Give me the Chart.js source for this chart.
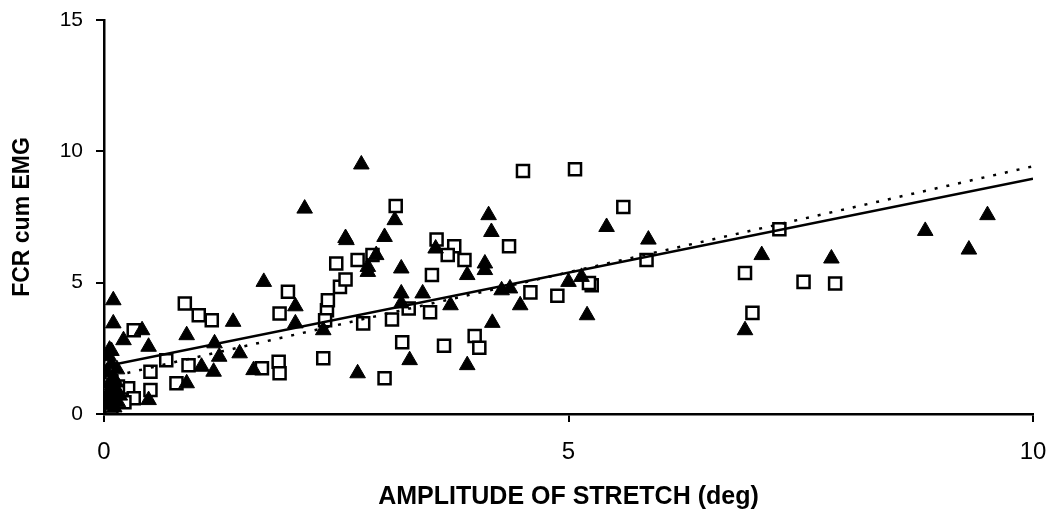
<!DOCTYPE html>
<html>
<head>
<meta charset="utf-8">
<script src="https://cdn.jsdelivr.net/npm/chart.js@4"></script>
<style>
  body { margin: 0; background: #fff; }
  #wrap { width: 1052px; height: 512px; }
</style>
</head>
<body>
<div id="wrap"><canvas id="grafico"></canvas></div>
<script>
// triangulos (relleno negro)
const triX = [2.16, 2.6, 1.72, 0.10, 0.10, 0.41, 0.21, 0.48, 0.06, 0.89, 1.39, 1.19, 1.24, 1.46, 1.05, 1.18, 1.61, 0.89, 0.48,
  2.06, 2.06, 2.36, 2.77, 3.13, 2.61, 3.02, 2.93, 2.84, 2.84, 3.2, 4.14, 4.17, 3.57, 4.1, 4.1, 3.91, 3.2, 3.2, 3.43, 3.73,
  4.28, 4.37, 4.48, 5.0, 5.14, 5.2, 4.18, 3.29, 2.73, 3.91, 5.41, 5.86, 7.08, 6.9, 7.83, 8.84, 9.31, 9.51,
  0.05, 0.08, 0.03, 0.10, 0.06, 0.12, 0.04, 0.09, 0.15, 0.05, 0.11, 0.02, 0.14, 0.17, 0.08, 0.13];
const triY = [7.82, 6.7, 5.03, 4.33, 3.45, 3.19, 2.81, 2.56, 2.45, 3.0, 3.51, 2.69, 2.18, 2.31, 1.80, 1.61, 1.67, 1.17, 0.53,
  4.1, 3.45, 3.19, 9.5, 7.38, 6.62, 6.74, 6.05, 5.41, 5.6, 5.54, 7.57, 6.93, 6.3, 5.73, 5.48, 5.29, 4.59, 4.21, 4.59, 4.14,
  4.71, 4.78, 4.14, 5.03, 5.22, 3.76, 3.47, 2.05, 1.55, 1.86, 7.12, 6.64, 6.05, 3.19, 5.92, 6.97, 6.26, 7.57,
  2.2, 1.9, 1.6, 1.4, 1.15, 0.95, 0.8, 0.6, 0.45, 0.35, 0.25, 0.5, 1.7, 0.7, 2.4, 1.2];

// cuadrados (huecos)
const sqX = [2.5, 0.87, 1.02, 1.16, 0.32, 0.67, 0.91, 0.50, 0.50, 0.78, 0.26, 0.32, 1.98, 1.89, 1.70, 1.88, 1.89, 2.36,
  2.40, 2.41, 2.38, 2.54, 2.6, 4.51, 5.07, 3.14, 3.58, 3.77, 3.7, 3.88, 4.36, 2.73, 2.89, 3.53, 3.28, 3.51, 3.1, 2.79,
  4.59, 4.88, 3.21, 3.66, 3.99, 4.04, 3.02, 5.59, 5.84, 5.25, 5.22, 6.9, 6.98, 7.27, 7.53, 7.87,
  0.0, 0.04, 0.12, 0.18, 0.22, 0.08, 0.15, 0.02];
const sqY = [5.73, 4.21, 3.76, 3.57, 3.19, 2.05, 1.86, 1.61, 0.91, 1.17, 0.98, 0.60, 4.65, 3.83, 1.74, 1.99, 1.55, 2.12,
  3.95, 4.33, 3.57, 4.84, 5.12, 9.25, 9.32, 7.92, 6.64, 6.39, 6.05, 5.86, 6.39, 5.86, 6.05, 5.29, 4.02, 3.87, 3.6, 3.45,
  4.63, 4.5, 2.73, 2.6, 2.97, 2.52, 1.36, 7.88, 5.86, 4.9, 4.99, 5.37, 3.85, 7.03, 5.03, 4.97,
  0.55, 0.35, 0.75, 0.55, 0.45, 0.25, 1.05, 0.9];

// rectas de ajuste (extremos en x = 0 y x = 10)
const ajusteX = [0, 10];
const ajusteContinua = [1.81, 8.96];
const ajustePunteada = [1.36, 9.43];

// ticks de los ejes
const ticksX = [0, 5, 10];
const ticksY = [0, 5, 10, 15];

const aPuntos = (xs, ys) => xs.map((x, i) => ({ x: x, y: ys[i] }));

const fuente = 'Liberation Sans, Arial, sans-serif';

new Chart(document.getElementById('grafico'), {
  type: 'scatter',
  data: {
    datasets: [
      {
        type: 'line',
        data: aPuntos(ajusteX, ajusteContinua),
        borderColor: '#000',
        borderWidth: 2.5,
        pointRadius: 0,
        fill: false
      },
      {
        type: 'line',
        data: aPuntos(ajusteX, ajustePunteada),
        borderColor: '#000',
        borderWidth: 2.5,
        borderDash: [3, 9],
        pointRadius: 0,
        fill: false
      },
      {
        data: aPuntos(triX, triY),
        pointStyle: 'triangle',
        pointRadius: 9,
        backgroundColor: '#000',
        borderColor: '#000',
        borderWidth: 1
      },
      {
        data: aPuntos(sqX, sqY),
        pointStyle: 'rect',
        pointRadius: 8.5,
        backgroundColor: '#fff',
        borderColor: '#000',
        borderWidth: 2.5
      }
    ]
  },
  options: {
    responsive: true,
    maintainAspectRatio: false,
    animation: false,
    layout: { padding: { top: 20, right: 19, left: 0, bottom: 0 } },
    plugins: { legend: { display: false }, tooltip: { enabled: false } },
    scales: {
      x: {
        type: 'linear',
        min: 0,
        max: 10,
        afterBuildTicks: s => { s.ticks = ticksX.map(v => ({ value: v })); },
        // alto fijo y sin margen extra por las etiquetas de los extremos
        afterFit: s => { s.height = 98; s.paddingLeft = 0; s.paddingRight = 0; },
        border: { display: true, color: '#000', width: 2.5 },
        grid: { display: true, drawOnChartArea: false, drawTicks: true, tickLength: 8, color: '#000', lineWidth: 2 },
        ticks: { color: '#000', font: { family: fuente, size: 24 }, padding: 16, maxRotation: 0 },
        title: {
          display: true,
          text: 'AMPLITUDE OF STRETCH (deg)',
          color: '#000',
          font: { family: fuente, size: 25, weight: 'bold' },
          padding: { top: 10, bottom: 0 }
        }
      },
      y: {
        type: 'linear',
        min: 0,
        max: 15,
        afterBuildTicks: s => { s.ticks = ticksY.map(v => ({ value: v })); },
        afterFit: s => { s.width = 104; s.paddingTop = 0; s.paddingBottom = 0; },
        border: { display: true, color: '#000', width: 2.5 },
        grid: { display: true, drawOnChartArea: false, drawTicks: true, tickLength: 8, color: '#000', lineWidth: 2 },
        ticks: { color: '#000', font: { family: fuente, size: 21 }, padding: 13 },
        title: {
          display: true,
          text: 'FCR cum EMG',
          color: '#000',
          font: { family: fuente, size: 23, weight: 'bold' },
          padding: { top: 9, bottom: 0 }
        }
      }
    }
  }
});
</script>
</body>
</html>
